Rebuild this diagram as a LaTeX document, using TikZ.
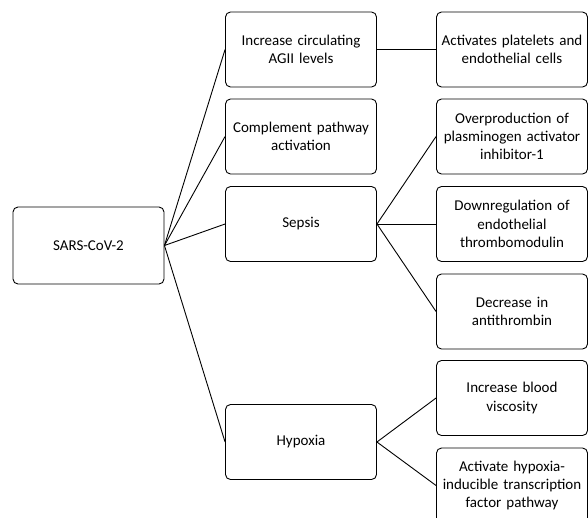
\documentclass[tikz,border=0pt]{standalone}
\usepackage{fontspec}
\setmainfont{Carlito}
\usepackage{tikz}

\begin{document}
\begin{tikzpicture}[x=1pt,y=-1pt,
    box/.style={draw,line width=0.9pt,rounded corners=5pt,align=center,
      minimum width=151pt,minimum height=75pt,text width=148pt,inner sep=0pt,
      font=\fontsize{15}{18.3}\selectfont}]
\useasboundingbox (0,0) rectangle (588,517);
\node[box,minimum height=77pt] at (88.5,245.5) (sars) {SARS-CoV-2};
\node[box] at (301,49.5) (agii) {Increase circulating\\AGII levels};
\node[box] at (301,136.5) (compl) {Complement pathway\\activation};
\node[box] at (301,224) (sepsis) {Sepsis};
\node[box] at (301,442) (hypoxia) {Hypoxia};
\node[box] at (512,49.5) (platelets) {Activates platelets and\\endothelial cells};
\node[box] at (512,136.5) (pai) {Overproduction of\\plasminogen activator\\inhibitor-1};
\node[box] at (512,224) (tm) {Downregulation of\\endothelial\\thrombomodulin};
\node[box] at (512,311.5) (at) {Decrease in\\antithrombin};
\node[box] at (512,398) (visc) {Increase blood\\viscosity};
\node[box] at (512,485.5) (hif) {Activate hypoxia-\\inducible transcription\\factor pathway};
\draw[line width=0.9pt] (sars.east) -- (agii.west);
\draw[line width=0.9pt] (sars.east) -- (compl.west);
\draw[line width=0.9pt] (sars.east) -- (sepsis.west);
\draw[line width=0.9pt] (sars.east) -- (hypoxia.west);
\draw[line width=0.9pt] (agii.east) -- (platelets.west);
\draw[line width=0.9pt] (sepsis.east) -- (pai.west);
\draw[line width=0.9pt] (sepsis.east) -- (tm.west);
\draw[line width=0.9pt] (sepsis.east) -- (at.west);
\draw[line width=0.9pt] (hypoxia.east) -- (visc.west);
\draw[line width=0.9pt] (hypoxia.east) -- (hif.west);
\end{tikzpicture}
\end{document}
